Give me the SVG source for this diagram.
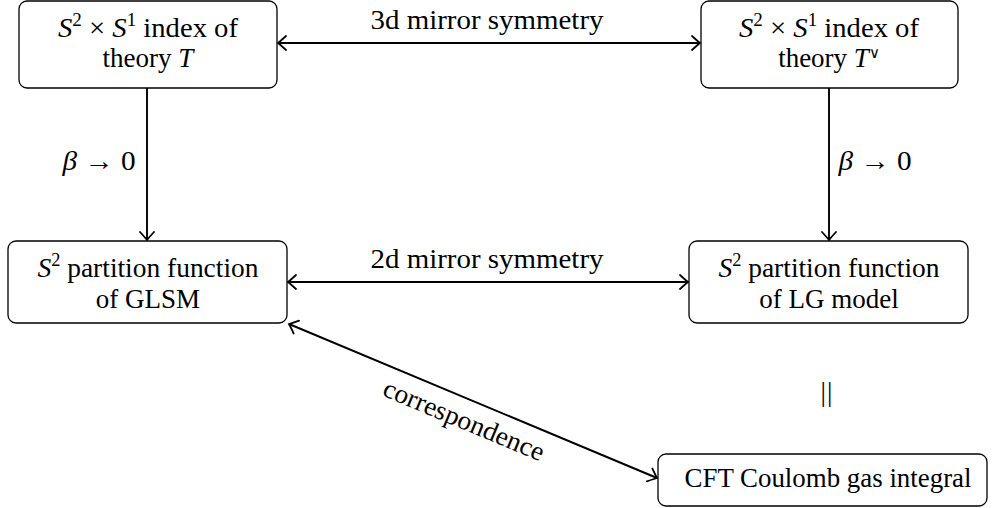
<svg xmlns="http://www.w3.org/2000/svg" width="994" height="508" viewBox="0 0 994 508">
<style>
.box{fill:#fff;stroke:#000;stroke-width:1.3}
.t{font-family:"Liberation Serif","DejaVu Serif",serif;font-size:27px;fill:#000;text-anchor:middle}
.i{font-style:italic}
.c{stroke:#000;stroke-width:1.9;fill:none}
</style>
<defs>
<marker id="ah" viewBox="-11 -8 13 16" markerWidth="13" markerHeight="16" refX="0" refY="0" orient="auto-start-reverse" markerUnits="userSpaceOnUse">
<path d="M-8,-7 Q-2,-1.5 0,0 Q-2,1.5 -8,7" fill="none" stroke="#000" stroke-width="1.8" stroke-linecap="round"/>
</marker>
</defs>
<g id="connectors">
<line class="c" x1="278" y1="43" x2="700" y2="43" marker-start="url(#ah)" marker-end="url(#ah)"/>
<line class="c" x1="288" y1="282" x2="688" y2="282" marker-start="url(#ah)" marker-end="url(#ah)"/>
<line class="c" x1="147" y1="88" x2="147" y2="240" marker-end="url(#ah)"/>
<line class="c" x1="829" y1="88" x2="829" y2="240" marker-end="url(#ah)"/>
<line class="c" x1="289" y1="324" x2="657" y2="478" marker-start="url(#ah)" marker-end="url(#ah)"/>
<text class="t" x="487" y="29" textLength="233" lengthAdjust="spacingAndGlyphs">3d mirror symmetry</text>
<text class="t" x="487" y="268" textLength="233" lengthAdjust="spacingAndGlyphs">2d mirror symmetry</text>
<text class="t" x="99" y="170" textLength="73" lengthAdjust="spacingAndGlyphs"><tspan class="i">β</tspan> → 0</text>
<text class="t" x="875" y="170" textLength="73" lengthAdjust="spacingAndGlyphs"><tspan class="i">β</tspan> → 0</text>
<text class="t" transform="translate(464,420) rotate(22.7)" y="9" textLength="172" lengthAdjust="spacingAndGlyphs">correspondence</text>
<text class="t" x="827" y="401" font-size="33" letter-spacing="1">||</text>
</g>
<g id="n1">
<rect class="box" x="19" y="1" width="258" height="87" rx="8"/>
<text class="t" x="148" y="37" textLength="180" lengthAdjust="spacingAndGlyphs"><tspan class="i">S</tspan><tspan font-size="18" dy="-11">2</tspan><tspan dy="11"> × </tspan><tspan class="i">S</tspan><tspan font-size="18" dy="-11">1</tspan><tspan dy="11"> index of</tspan></text>
<text class="t" x="148" y="67">theory <tspan class="i">T</tspan></text>
</g>
<g id="n2">
<rect class="box" x="701" y="1" width="257" height="87" rx="8"/>
<text class="t" x="829" y="37" textLength="180" lengthAdjust="spacingAndGlyphs"><tspan class="i">S</tspan><tspan font-size="18" dy="-11">2</tspan><tspan dy="11"> × </tspan><tspan class="i">S</tspan><tspan font-size="18" dy="-11">1</tspan><tspan dy="11"> index of</tspan></text>
<text class="t" x="829" y="67">theory <tspan class="i">T</tspan><tspan font-size="15" dy="-9">∨</tspan></text>
</g>
<g id="n3">
<rect class="box" x="8" y="241" width="279" height="82" rx="8"/>
<text class="t" x="148" y="277" textLength="221" lengthAdjust="spacingAndGlyphs"><tspan class="i">S</tspan><tspan font-size="18" dy="-11">2</tspan><tspan dy="11"> partition function</tspan></text>
<text class="t" x="148" y="308">of GLSM</text>
</g>
<g id="n4">
<rect class="box" x="689" y="241" width="279" height="82" rx="8"/>
<text class="t" x="829" y="277" textLength="221" lengthAdjust="spacingAndGlyphs"><tspan class="i">S</tspan><tspan font-size="18" dy="-11">2</tspan><tspan dy="11"> partition function</tspan></text>
<text class="t" x="829" y="308">of LG model</text>
</g>
<g id="n5">
<rect class="box" x="658" y="454" width="329" height="52" rx="8"/>
<text class="t" x="828" y="487" textLength="287" lengthAdjust="spacingAndGlyphs">CFT Coulomb gas integral</text>
</g>
</svg>
